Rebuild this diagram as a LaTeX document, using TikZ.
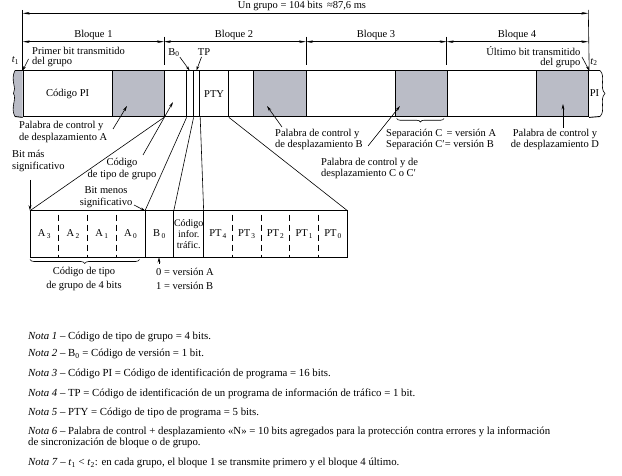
\documentclass[tikz,border=0pt]{standalone}
\usepackage{fontspec}
\setmainfont{Liberation Serif}
\usetikzlibrary{arrows.meta,positioning,decorations.pathreplacing,calc}
\definecolor{ckgrey}{RGB}{186,188,198}

\begin{document}
\begin{tikzpicture}[
    x=1pt, y=-1pt,
    >={Stealth[length=5.5pt,width=2.8pt]},
    every node/.style={inner sep=0pt, font=\fontsize{10.5}{11.5}\selectfont},
    cell/.style={
        rectangle,
        draw,
        line width=0.9pt,
        minimum height=46,
        anchor=north west
    },
    ckword/.style={cell, fill=ckgrey},
    bitcell/.style={
        rectangle,
        minimum width=28.36,
        minimum height=46,
        anchor=north west,
        align=center
    },
    dimline/.style={{Stealth[length=7pt,width=2.6pt]}-{Stealth[length=7pt,width=2.6pt]}, line width=0.6pt},
    guide/.style={line width=0.6pt},
    pointer/.style={->, line width=0.6pt},
    divdash/.style={line width=0.9pt, dash pattern=on 6pt off 4pt, dash phase=6pt},
    lbl/.style={anchor=west, align=left},
    note/.style={anchor=west, align=left, font=\fontsize{10.8}{11.5}\selectfont}
]

\useasboundingbox (0,0) rectangle (622,476);

% --- The group: four blocks in a row ---
\node[cell]   (pi)     at (22.7,70.5)  [minimum width=89]   {Código PI};
\node[ckword] (cka)    at (111.7,70.5) [minimum width=52.3] {};
\node[cell]   (gtc)    at (164,70.5)   [minimum width=21.7] {};
\node[cell]   (bzero)  at (185.7,70.5) [minimum width=7]    {};
\node[cell]   (tp)     at (192.7,70.5) [minimum width=6.6]  {};
\node[cell]   (pty)    at (199.3,70.5) [minimum width=28.7] {PTY};
\node[cell]   (dtwo)   at (228,70.5)   [minimum width=25.3] {};
\node[ckword] (ckb)    at (253.3,70.5) [minimum width=52.7] {};
\node[cell]   (dthree) at (306,70.5)   [minimum width=89]   {};
\node[ckword] (ckc)    at (395,70.5)   [minimum width=51.7] {};
\node[cell]   (dfour)  at (446.7,70.5) [minimum width=89.3] {};
\node[ckword] (ckd)    at (536,70.5)   [minimum width=52.3] {};

% cut ends of the stream
\coordinate (lefttop) at (15,70.5);
\coordinate (leftbot) at (15,116.5);
\coordinate (righttop) at (600,70.5);
\coordinate (rightbot) at (600,116.5);
\fill[ckgrey] (lefttop) .. controls (10,80) and (17,88) .. (13.5,93.5) .. controls (17,99) and (10,108) .. (leftbot) -- (pi.south west) -- (pi.north west) -- cycle;
\draw[guide] (lefttop) .. controls (10,80) and (17,88) .. (13.5,93.5) .. controls (17,99) and (10,108) .. (leftbot);
\draw[line width=0.9pt] (lefttop) -- (pi.north west);
\draw[line width=0.9pt] (leftbot) -- (pi.south west);
\draw[line width=0.9pt] (ckd.north east) -- (righttop);
\draw[line width=0.9pt] (ckd.south east) -- (rightbot);
\draw[guide] (righttop) .. controls (606,76) and (599,88) .. (605,93.5) .. controls (599,99) and (606,111) .. (rightbot);
\node (pinext) at (594.5,93.5) {PI};

% --- Dimensions above ---
\coordinate (gstart) at (22.7,10);
\coordinate (gend)   at (588.3,10);
\draw[guide] (gstart) -- (pi.north west);
\draw[guide] (gend) -- (ckd.north east);
\coordinate (ga) at (22.7,13.3);
\coordinate (gb) at (588.3,13.3);
\draw[dimline] (ga) -- (gb);
\node (grupo) at (302,5.5) {Un grupo = 104 bits \,≈87,6 ms};

\draw[guide] (164,36.7) -- (164,65);
\draw[guide] (306,36.7) -- (306,65);
\draw[guide] (446.7,36.7) -- (446.7,65);
\coordinate (bxa) at (22.7,41.7);
\coordinate (bxb) at (164,41.7);
\coordinate (bxc) at (306,41.7);
\coordinate (bxd) at (446.7,41.7);
\coordinate (bxe) at (588.3,41.7);
\draw[dimline] (bxa) -- (bxb);
\draw[dimline] (bxb) -- (bxc);
\draw[dimline] (bxc) -- (bxd);
\draw[dimline] (bxd) -- (bxe);
\node (blkone)   at (93.4,35)  {Bloque 1};
\node (blktwo)   at (234,35)   {Bloque 2};
\node (blkthree) at (376,35)   {Bloque 3};
\node (blkfour)  at (517,35)   {Bloque 4};

% first and last bit
\node (tone) at (15.5,60.5) {\textit{t}\textsubscript{1}};
\node[lbl, font=\fontsize{10.5}{10}\selectfont] (primer) at (32,57) {Primer bit transmitido\\del grupo};
\coordinate (primertail) at (28.5,59);
\draw[pointer, >={Stealth[length=4.5pt,width=2.6pt]}] (primertail) -- (pi.north west);
\node (ttwo) at (594,62) {\textit{t}\textsubscript{2}};
\node[anchor=east, align=right, font=\fontsize{10.5}{10}\selectfont] (ultimo) at (580.5,57) {Último bit transmitido\\del grupo};
\coordinate (ultail) at (582,57);
\draw[pointer, >={Stealth[length=4.5pt,width=2.6pt]}] (ultail) -- (ckd.north east);
\node (bzlbl) at (174,52.5) {B\textsubscript{0}};
\node (tplbl) at (204,52.5) {TP};
\coordinate (tptail) at (201.5,57);
\draw[pointer, >={Stealth[length=4.5pt,width=2.6pt]}] (bzlbl.south east) -- (bzero.north);
\draw[pointer, >={Stealth[length=4.5pt,width=2.6pt]}] (tptail) -- (tp.north);

% --- Labels below the group ---
\node[lbl] (pala) at (19,132) {Palabra de control y\\de desplazamiento A};
\coordinate (palatail) at (113,129);
\coordinate (palahead) at (127,106);
\draw[pointer] (palatail) -- (palahead);

\node[align=center] (gtlbl) at (122,169) {Código\\de tipo de grupo};
\coordinate (gttail) at (143,155);
\coordinate (gthead) at (173,102);
\draw[pointer] (gttail) -- (gthead);

\node[lbl] (palb) at (275,139.5) {Palabra de control y\\de desplazamiento B};
\coordinate (palbtail) at (282,127);
\coordinate (palbhead) at (267,106);
\draw[pointer] (palbtail) -- (palbhead);

\node[lbl] (palc) at (321,168.5) {Palabra de control y de\\desplazamiento C o C′};
\coordinate (palctail) at (368,146);
\coordinate (palchead) at (400,106);
\draw[pointer] (palctail) -- (palchead);

\draw[guide, decorate, decoration={brace, mirror, amplitude=3.5pt}] (396.7,118.5) -- (444,118.5);
\node[lbl] (sep) at (386,139.5) {Separación C\phantom{′}\,= versión A\\Separación C′= versión B};

\node[align=center] (pald) at (555,139.5) {Palabra de control y\\de desplazamiento D};
\coordinate (paldtail) at (563,128);
\coordinate (paldhead) at (563,104);
\draw[pointer] (paldtail) -- (paldhead);

% --- Block 2 bit by bit ---
\node[bitcell] (athree) at (30,210.7) {A\kern1.5pt\textsubscript{3}};
\node[bitcell, right=0pt of athree] (atwo)   {A\kern1.5pt\textsubscript{2}};
\node[bitcell, right=0pt of atwo]   (aone)   {A\kern1.5pt\textsubscript{1}};
\node[bitcell, right=0pt of aone]   (azero)  {A\kern1.5pt\textsubscript{0}};
\node[bitcell, right=0pt of azero]  (bzx)    {B\kern1.5pt\textsubscript{0}};
\node[bitcell, right=0pt of bzx, font=\fontsize{10}{11}\selectfont] (tpx) {Código\\infor.\\tráfic.};
\node[bitcell, right=0pt of tpx]    (ptfour)  {PT\kern1pt\textsubscript{4}};
\node[bitcell, right=0pt of ptfour] (ptthree) {PT\kern1pt\textsubscript{3}};
\node[bitcell, right=0pt of ptthree] (pttwo)  {PT\kern1pt\textsubscript{2}};
\node[bitcell, right=0pt of pttwo]  (ptone)   {PT\kern1pt\textsubscript{1}};
\node[bitcell, right=0pt of ptone]  (ptzero)  {PT\kern1pt\textsubscript{0}};

\draw[line width=0.9pt] (athree.north west) rectangle (ptzero.south east);
\draw[divdash] (athree.north east) -- (athree.south east);
\draw[divdash] (atwo.north east) -- (atwo.south east);
\draw[divdash] (aone.north east) -- (aone.south east);
\draw[line width=0.9pt] (azero.north east) -- (azero.south east);
\draw[line width=0.9pt] (bzx.north east) -- (bzx.south east);
\draw[line width=0.9pt] (tpx.north east) -- (tpx.south east);
\draw[divdash] (ptfour.north east) -- (ptfour.south east);
\draw[divdash] (ptthree.north east) -- (ptthree.south east);
\draw[divdash] (pttwo.north east) -- (pttwo.south east);
\draw[divdash] (ptone.north east) -- (ptone.south east);

% fan lines from block 2 to its bits
\draw[guide] (gtc.south west) -- (athree.north west);
\draw[guide] (gtc.south east) -- (azero.north east);
\draw[guide] (bzero.south east) -- (bzx.north east);
\draw[guide] (tp.south east) -- (tpx.north east);
\draw[guide] (pty.south east) -- (ptzero.north east);

\node[lbl] (bitmas) at (12,161) {Bit más\\significativo};
\coordinate (bitmastail) at (30,180);
\draw[pointer] (bitmastail) -- (athree.north west);
\node[align=center] (bitmenos) at (106,197) {Bit menos\\significativo};
\coordinate (bitmenostail) at (134,205);
\draw[pointer, >={Stealth[length=4.5pt,width=2.6pt]}] (bitmenostail) -- (azero.north east);

\draw[guide, decorate, decoration={brace, mirror, amplitude=4pt}] (30,259.5) -- (139.5,259.5);
\node[align=center, font=\fontsize{10.5}{13.4}\selectfont] (gtfour) at (84,279) {Código de tipo\\de grupo de 4 bits};
\node[lbl, font=\fontsize{10.5}{13.4}\selectfont] (version) at (156,279) {0 = versión A\\1 = versión B};
\coordinate (versiontail) at (159,264);
\draw[pointer] (versiontail) -- (bzx.south -| versiontail);

% --- Notes ---
\node[note] (notaone)   at (28,337) {\textit{Nota 1} – Código de tipo de grupo = 4 bits.};
\node[note] (notatwo)   at (28,354) {\textit{Nota 2} – B\textsubscript{0} = Código de versión = 1 bit.};
\node[note] (notathree) at (28,374) {\textit{Nota 3} – Código PI = Código de identificación de programa = 16 bits.};
\node[note] (notafour)  at (28,394) {\textit{Nota 4} – TP = Código de identificación de un programa de información de tráfico = 1 bit.};
\node[note] (notafive)  at (28,413) {\textit{Nota 5} – PTY = Código de tipo de programa = 5 bits.};
\node[note, font=\fontsize{10.8}{11}\selectfont] (notasix) at (28,437.5) {\textit{Nota 6} – Palabra de control + desplazamiento «N» = 10 bits agregados para la protección contra errores y la información\\de sincronización de bloque o de grupo.};
\node[note] (notaseven) at (28,463) {\textit{Nota 7} – \textit{t}\textsubscript{1} < \textit{t}\textsubscript{2}: en cada grupo, el bloque 1 se transmite primero y el bloque 4 último.};

\end{tikzpicture}
\end{document}
